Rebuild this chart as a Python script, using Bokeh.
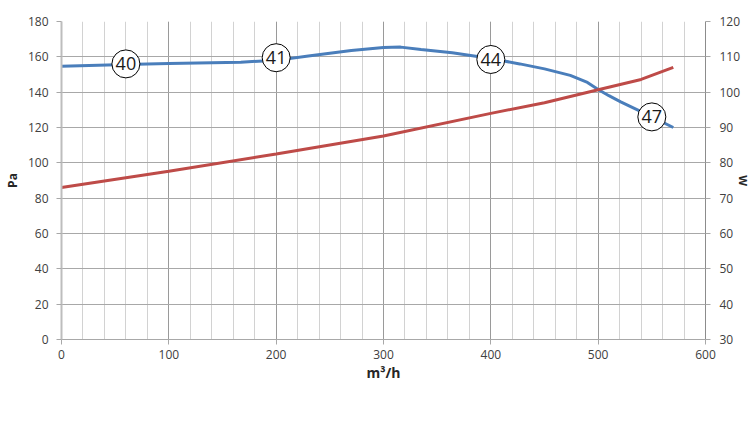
from bokeh.plotting import figure
from bokeh.models import (Range1d, LinearAxis, SingleIntervalTicker, Legend,
                          LegendItem)
from bokeh.core.properties import value
from bokeh.embed import file_html
from bokeh.resources import INLINE

# ---- data ----
q_flow = [0, 60, 100, 167, 200, 230, 270, 300, 316, 335, 364, 400, 427, 450,
          474, 490, 500, 510, 521, 540, 570]
q_pa = [154.7, 155.6, 156.2, 157.0, 158.0, 160.5, 163.6, 165.3, 165.5, 164.2,
        162.3, 159.0, 156.0, 153.2, 149.5, 145.5, 141.5, 138.0, 134.5, 129.0, 120.0]

w_flow = [0, 100, 200, 300, 400, 450, 500, 540, 570]
w_watt = [73.0, 77.6, 82.5, 87.6, 94.0, 97.0, 100.7, 103.6, 107.0]

noise_flow = [60, 200, 400, 550]
noise_pa = [156.0, 159.5, 158.5, 126.0]
noise_db = ["40", "41", "44", "47"]

x_ticks_interval = 100
left_ticks_interval = 20
right_ticks_interval = 10

FONT = "Open Sans"
BLUE = "#4a7ebb"
RED = "#be4b48"
TXT = "#404040"

p = figure(frame_width=644, frame_height=318, x_range=Range1d(0, 600), y_range=Range1d(0, 180),
           output_backend="svg", toolbar_location=None,
           min_border_left=61, min_border_right=48, min_border_top=21,
           min_border_bottom=84)
p.outline_line_color = None
p.extra_y_ranges = {"w": Range1d(30, 120)}

# grids
xt = SingleIntervalTicker(interval=x_ticks_interval, num_minor_ticks=5)
p.xaxis.ticker = xt
p.xgrid.ticker = xt
p.xgrid.grid_line_color = "#9a9a9a"
p.xgrid.minor_grid_line_color = "#d2d2d2"
yt = SingleIntervalTicker(interval=left_ticks_interval)
p.yaxis.ticker = yt
p.ygrid.ticker = yt
p.ygrid.grid_line_color = "#a8a8a8"

# right axis
ra = LinearAxis(y_range_name="w", ticker=SingleIntervalTicker(interval=right_ticks_interval))
p.add_layout(ra, "right")

for ax in [p.xaxis[0], p.yaxis[0], ra]:
    ax.axis_line_color = "#a8a8a8"
    ax.axis_line_width = 1
    ax.major_tick_line_color = "#a8a8a8"
    ax.major_tick_in = 0
    ax.major_tick_out = 5
    ax.minor_tick_line_color = None
    ax.major_label_text_font = FONT
    ax.major_label_text_font_size = "12px"
    ax.major_label_text_color = TXT
    ax.axis_label_text_font = FONT
    ax.axis_label_text_font_style = "bold"
    ax.axis_label_text_color = "#262626"
p.yaxis[0].axis_line_width = 2
p.yaxis[0].axis_line_color = "#bdbdbd"
ra.axis_line_color = "#8c8c8c"

p.xaxis.axis_label = "m³/h"
p.xaxis.axis_label_text_font_size = "14px"
p.xaxis.major_label_standoff = 5
p.xaxis.axis_label_standoff = 1
p.yaxis[0].axis_label = "Pa"
p.yaxis[0].axis_label_text_font_size = "12px"
p.yaxis[0].major_label_standoff = 8
p.yaxis[0].axis_label_standoff = 4
ra.axis_label = "W"
ra.axis_label_text_font_size = "11px"
ra.axis_label_standoff = -7
ra.major_label_standoff = 9

# lines
q_line = p.line(q_flow, q_pa, line_color=BLUE, line_width=3)
w_line = p.line(w_flow, w_watt, y_range_name="w", line_color=RED, line_width=3)

# noise markers
circ = p.ellipse(noise_flow, noise_pa, width=28, height=28,
                 width_units="screen", height_units="screen",
                 fill_color="white", line_color="black", line_width=1)
p.text(noise_flow, noise_pa, text=noise_db, text_align="center",
       text_baseline="middle", text_font=value(FONT), text_font_size="18px",
       text_color="#1a1a1a")

# legend
leg = Legend(items=[LegendItem(label="Q - CVD 600 C4", renderers=[q_line]),
                    LegendItem(label="W - CVD 600 C4", renderers=[w_line]),
                    LegendItem(label="Pression acoustique à 4 m", renderers=[circ])],
             orientation="horizontal", location="center",
             glyph_width=34, glyph_height=22, label_standoff=4, spacing=37,
             padding=0, margin=0, border_line_alpha=0, background_fill_alpha=0,
             label_text_font=FONT, label_text_font_size="11.5px",
             label_text_color="#262626")
p.add_layout(leg, "below")

open("out.html", "w").write(file_html(p, INLINE))
